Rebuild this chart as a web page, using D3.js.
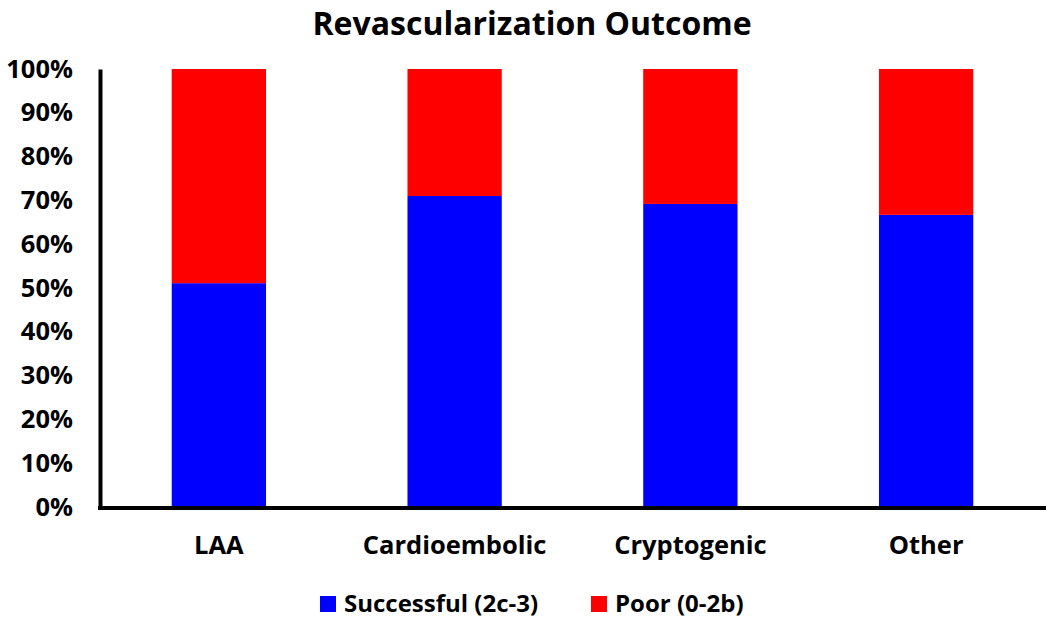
<!DOCTYPE html>
<html>
<head>
<meta charset="utf-8">
<script src="https://cdn.jsdelivr.net/npm/d3@7"></script>
<style>
  html, body { margin: 0; padding: 0; background: #fff; }
  svg { display: block; font-family: "Open Sans", "DejaVu Sans", sans-serif; font-weight: bold; }
</style>
</head>
<body>
<svg id="chart" width="1050" height="627"></svg>
<script>
const categories = ["LAA", "Cardioembolic", "Cryptogenic", "Other"];
const successful = [51.1, 71.0, 69.2, 66.7];
const poor = [48.9, 29.0, 30.8, 33.3];
const seriesNames = ["Successful (2c-3)", "Poor (0-2b)"];
const seriesColors = ["#0000ff", "#ff0000"];
const yTicks = [0, 10, 20, 30, 40, 50, 60, 70, 80, 90, 100];
const title = "Revascularization Outcome";

const svg = d3.select("#chart");
const margin = { left: 101, right: 1044, top: 69, bottom: 507 };

const x = d3.scaleBand().domain(categories).range([margin.left, margin.right]).paddingInner(0.6).paddingOuter(0.3);
const y = d3.scaleLinear().domain([0, 100]).range([margin.bottom, margin.top]);

const rows = categories.map((c, i) => ({ cat: c, s: successful[i], p: poor[i] }));
const stack = d3.stack().keys(["s", "p"])(rows);

svg.append("g").selectAll("g").data(stack).join("g")
  .attr("fill", (d, i) => seriesColors[i])
  .selectAll("rect").data(d => d).join("rect")
  .attr("x", d => x(d.data.cat))
  .attr("width", x.bandwidth())
  .attr("y", d => y(d[1]))
  .attr("height", d => y(d[0]) - y(d[1]));

// Y axis
const yAxis = d3.axisLeft(y).tickValues(yTicks).tickFormat(d => d + "%").tickSize(0).tickPadding(27);
const gy = svg.append("g").attr("transform", `translate(${margin.left - 1},0)`).call(yAxis);
gy.select(".domain").attr("stroke", "#000").attr("stroke-width", 4);
gy.selectAll("text").attr("font-size", 25.5).attr("font-family", "Open Sans").attr("font-weight", "bold").attr("fill", "#000");

// X axis
const xAxis = d3.axisBottom(x).tickSize(0).tickPadding(28);
const gx = svg.append("g").attr("transform", `translate(0,${margin.bottom + 1})`).call(xAxis);
gx.select(".domain").attr("stroke", "#000").attr("stroke-width", 4).attr("d", `M${margin.left - 3},0H${margin.right + 2}`);
gx.selectAll("text").attr("font-size", 25.5).attr("font-family", "Open Sans").attr("font-weight", "bold").attr("fill", "#000");

// Title
svg.append("text").attr("x", 532).attr("y", 35).attr("text-anchor", "middle")
  .attr("font-size", 32).attr("fill", "#000").text(title);

// Legend
const legendX = [320, 591];
const lg = svg.append("g").selectAll("g").data(seriesNames).join("g")
  .attr("transform", (d, i) => `translate(${legendX[i]},596)`);
lg.append("rect").attr("width", 16).attr("height", 16).attr("fill", (d, i) => seriesColors[i]);
lg.append("text").attr("x", 24).attr("y", 16).attr("font-size", 24).attr("fill", "#000").text(d => d);
</script>
</body>
</html>
